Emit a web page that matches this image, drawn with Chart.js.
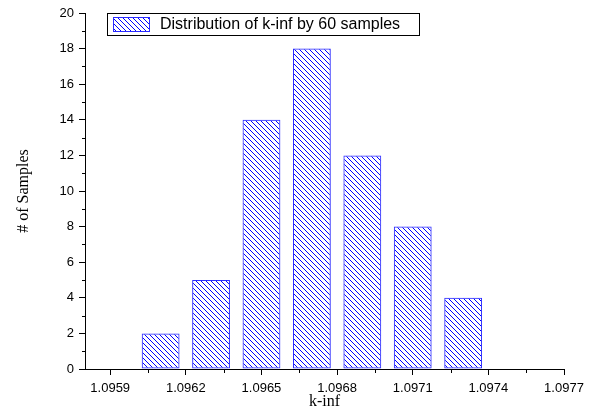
<!DOCTYPE html>
<html>
<head>
<meta charset="utf-8">
<script src="https://cdn.jsdelivr.net/npm/chart.js@4"></script>
<style>
  html, body { margin: 0; padding: 0; background: #fff; }
  canvas { display: block; }
</style>
</head>
<body>
<canvas id="hist" width="600" height="412"></canvas>
<script>
// data
const binCenters = [1.0961, 1.0963, 1.0965, 1.0967, 1.0969, 1.0971, 1.0973];
const sampleCounts = [2, 5, 14, 18, 12, 8, 4];
const seriesLabel = 'Distribution of k-inf by 60 samples';
const xTickValues = [1.0959, 1.0962, 1.0965, 1.0968, 1.0971, 1.0974, 1.0977];
const xMinorValues = [1.09605, 1.09635, 1.09665, 1.09695, 1.09725, 1.09755];
const yMinorValues = [1, 3, 5, 7, 9, 11, 13, 15, 17, 19];

const sans = 'Liberation Sans, Arial, sans-serif';
const serif = 'Liberation Serif, Times New Roman, serif';

// diagonal "\\\" hatch
function hatch(color) {
    const c = document.createElement('canvas');
    c.width = 5; c.height = 5;
    const g = c.getContext('2d');
    g.strokeStyle = color;
    g.lineWidth = 1;
    g.beginPath();
    for (let i = -1; i <= 1; i++) {
        g.moveTo(i * 5, 0);
        g.lineTo(i * 5 + 5, 5);
    }
    g.stroke();
    return g.createPattern(c, 'repeat');
}
const hatchFill = hatch('#0000ff');

// minor tick marks + boxed legend
const extras = {
    id: 'extras',
    afterDraw(chart) {
        const ctx = chart.ctx;
        const xs = chart.scales.x, ys = chart.scales.y;
        const area = chart.chartArea;
        ctx.save();
        ctx.strokeStyle = '#000';
        ctx.lineWidth = 1;
        ctx.beginPath();
        yMinorValues.forEach(v => {
            const py = Math.round(ys.getPixelForValue(v)) + 0.5;
            ctx.moveTo(area.left - 3, py);
            ctx.lineTo(area.left, py);
        });
        xMinorValues.forEach(v => {
            const px = Math.round(xs.getPixelForValue(v)) + 0.5;
            ctx.moveTo(px, area.bottom);
            ctx.lineTo(px, area.bottom + 4);
        });
        ctx.stroke();

        // legend
        const lx = area.left + 22, ly = area.top, lw = 312, lh = 22;
        ctx.strokeRect(lx + 0.5, ly + 0.5, lw, lh);
        ctx.fillStyle = hatchFill;
        ctx.fillRect(lx + 6, ly + 4, 37, 15);
        ctx.strokeStyle = '#2a2aff';
        ctx.strokeRect(lx + 6.5, ly + 4.5, 36, 14);
        ctx.fillStyle = '#000';
        ctx.font = '16px ' + sans;
        ctx.textBaseline = 'middle';
        ctx.fillText(chart.data.datasets[0].label, lx + 53, ly + lh / 2 + 1);
        ctx.restore();
    }
};

new Chart(document.getElementById('hist').getContext('2d'), {
    type: 'bar',
    data: {
        datasets: [{
            label: seriesLabel,
            data: binCenters.map((x, i) => ({ x: x, y: sampleCounts[i] })),
            backgroundColor: hatchFill,
            borderColor: '#2a2aff',
            borderWidth: 1,
            borderSkipped: false,
            barPercentage: 0.75,
            categoryPercentage: 1
        }]
    },
    options: {
        responsive: false,
        animation: false,
        layout: { padding: { top: 13, right: 36, left: 0, bottom: 0 } },
        plugins: {
            legend: { display: false },
            tooltip: { enabled: false }
        },
        scales: {
            x: {
                type: 'linear',
                min: 1.0958,
                max: 1.0977,
                offset: false,
                afterBuildTicks: s => { s.ticks = xTickValues.map(v => ({ value: v })); },
                afterFit: s => { s.height = 43; },
                ticks: {
                    autoSkip: false,
                    maxRotation: 0,
                    padding: 6,
                    color: '#000',
                    font: { family: sans, size: 13 },
                    callback: v => v.toFixed(4)
                },
                grid: {
                    offset: false,
                    drawOnChartArea: false,
                    drawTicks: true,
                    tickLength: 6,
                    tickColor: '#000'
                },
                border: { display: true, color: '#000', width: 1 },
                title: {
                    display: true,
                    text: 'k-inf',
                    color: '#000',
                    font: { family: serif, size: 16 },
                    padding: { top: 0, bottom: 1 }
                }
            },
            y: {
                min: 0,
                max: 20,
                afterFit: s => { s.width = 85; },
                ticks: {
                    stepSize: 2,
                    padding: 5,
                    color: '#000',
                    font: { family: sans, size: 13 }
                },
                grid: {
                    drawOnChartArea: false,
                    drawTicks: true,
                    tickLength: 6,
                    tickColor: '#000'
                },
                border: { display: true, color: '#000', width: 1 },
                title: {
                    display: true,
                    text: '# of Samples',
                    color: '#000',
                    font: { family: serif, size: 16 },
                    padding: { top: 14, bottom: 0 }
                }
            }
        }
    },
    plugins: [extras]
});
</script>
</body>
</html>
